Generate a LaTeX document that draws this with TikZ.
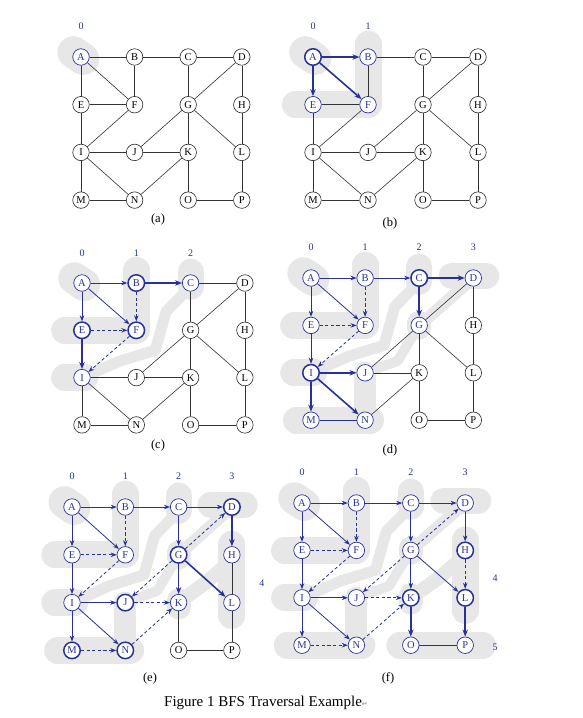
\documentclass[tikz,border=0pt]{standalone}
\usepackage{fontspec}
\setmainfont{Liberation Serif}
\newfontfamily\dvs{DejaVu Sans}
\usetikzlibrary{arrows.meta}
\definecolor{bl}{RGB}{40,50,150}
\definecolor{blobc}{RGB}{231,231,231}
\tikzset{
 nbase/.style={circle, minimum size=16.5pt, inner sep=0pt, fill=white, font=\fontsize{10.5}{12}\selectfont},
 nbk/.style={nbase, draw=black!85, line width=0.6pt, text=black},
 nvs/.style={draw=bl, line width=0.7pt, text=bl},
 ncu/.style={draw=bl, line width=1.5pt, text=bl},
 ebk/.style={draw=black!80, line width=0.6pt},
 ebl/.style={draw=bl, line width=0.8pt},
 etr/.style={draw=bl, line width=0.8pt, -{Stealth[length=6pt,width=4.5pt]}},
 etk/.style={draw=bl, line width=1.6pt, -{Stealth[length=7pt,width=5.5pt]}},
 eds/.style={draw=bl, line width=0.8pt, dash pattern=on 3.2pt off 2.4pt, -{Stealth[length=6pt,width=4.5pt]}},
 blob/.style={draw=blobc, line cap=round, line join=round},
 lvl/.style={text=bl, font=\fontsize{10}{12}\selectfont},
 sub/.style={font=\fontsize{12.5}{14}\selectfont},
 stA/.style={}, stB/.style={}, stC/.style={}, stD/.style={},
 stE/.style={}, stF/.style={}, stG/.style={}, stH/.style={},
 stI/.style={}, stJ/.style={}, stK/.style={}, stL/.style={},
 stM/.style={}, stN/.style={}, stO/.style={}, stP/.style={},
 kAB/.style={}, kBC/.style={}, kCD/.style={}, kAE/.style={}, kAF/.style={},
 kBF/.style={}, kEF/.style={}, kCG/.style={}, kGD/.style={}, kDH/.style={},
 kEI/.style={}, kFI/.style={}, kGJ/.style={}, kGK/.style={}, kGL/.style={},
 kHL/.style={}, kIJ/.style={}, kJK/.style={}, kIM/.style={}, kIN/.style={},
 kNK/.style={}, kKO/.style={}, kLP/.style={}, kMN/.style={}, kOP/.style={},
}
\newcommand\Grid[1]{%
 \node[nbk,stA] (#1A) at (0,0) {A};
 \node[nbk,stB] (#1B) at (1,0) {B};
 \node[nbk,stC] (#1C) at (2,0) {C};
 \node[nbk,stD] (#1D) at (3,0) {D};
 \node[nbk,stE] (#1E) at (0,1) {E};
 \node[nbk,stF] (#1F) at (1,1) {F};
 \node[nbk,stG] (#1G) at (2,1) {G};
 \node[nbk,stH] (#1H) at (3,1) {H};
 \node[nbk,stI] (#1I) at (0,2) {I};
 \node[nbk,stJ] (#1J) at (1,2) {J};
 \node[nbk,stK] (#1K) at (2,2) {K};
 \node[nbk,stL] (#1L) at (3,2) {L};
 \node[nbk,stM] (#1M) at (0,3) {M};
 \node[nbk,stN] (#1N) at (1,3) {N};
 \node[nbk,stO] (#1O) at (2,3) {O};
 \node[nbk,stP] (#1P) at (3,3) {P};
}
\newcommand\Edges[1]{%
 \draw[ebk,kAB] (#1A)--(#1B);
 \draw[ebk,kBC] (#1B)--(#1C);
 \draw[ebk,kCD] (#1C)--(#1D);
 \draw[ebk,kAE] (#1A)--(#1E);
 \draw[ebk,kAF] (#1A)--(#1F);
 \draw[ebk,kBF] (#1B)--(#1F);
 \draw[ebk,kEF] (#1E)--(#1F);
 \draw[ebk,kCG] (#1C)--(#1G);
 \draw[ebk,kGD] (#1G)--(#1D);
 \draw[ebk,kDH] (#1D)--(#1H);
 \draw[ebk,kEI] (#1E)--(#1I);
 \draw[ebk,kFI] (#1F)--(#1I);
 \draw[ebk,kGJ] (#1G)--(#1J);
 \draw[ebk,kGK] (#1G)--(#1K);
 \draw[ebk,kGL] (#1G)--(#1L);
 \draw[ebk,kHL] (#1H)--(#1L);
 \draw[ebk,kIJ] (#1I)--(#1J);
 \draw[ebk,kJK] (#1J)--(#1K);
 \draw[ebk,kIM] (#1I)--(#1M);
 \draw[ebk,kIN] (#1I)--(#1N);
 \draw[ebk,kNK] (#1N)--(#1K);
 \draw[ebk,kKO] (#1K)--(#1O);
 \draw[ebk,kLP] (#1L)--(#1P);
 \draw[ebk,kMN] (#1M)--(#1N);
 \draw[ebk,kOP] (#1O)--(#1P);
}
\newcommand\LZ{\draw[blob,line width=32pt] (-0.14,-0.1) -- (0.04,0.04);}
\newcommand\LO{\draw[blob,line width=27pt] (1,-0.27) -- (1,1) -- (-0.32,1);}
\newcommand\LT{%
 \draw[blob,line width=26pt] (2,-0.24) -- (2,0.08);
 \draw[blob,line width=11pt] (2,0.08) -- (1.55,0.6) -- (1.35,1.42) -- (0.7,1.65) -- (0.1,1.95);
 \draw[blob,line width=27pt] (-0.32,2) -- (0.05,2);}
\newcommand\LTh{%
 \draw[blob,line width=26pt] (2.6,-0.05) -- (3.24,-0.05);
 \draw[blob,line width=12pt] (3,0) -- (2,1);
 \draw[blob,line width=24pt] (2,0.95) -- (2,1.05);
 \draw[blob,line width=10pt] (2,1) -- (1.6,1.75) -- (1,2);
 \draw[blob,line width=22pt] (1,2) -- (1,3);
 \draw[blob,line width=27pt] (-0.27,3) -- (1.1,3);}
\newcommand\LF{%
 \draw[blob,line width=27pt] (3,0.78) -- (3,2.27);
 \draw[blob,line width=24pt] (2,1.95) -- (2,2.1);
 \draw[blob,line width=14pt] (2,2) -- (2.55,1.55) -- (3,1.1);}
\newcommand\LFv{\draw[blob,line width=27pt] (1.8,3) -- (3.32,3);}
\begin{document}
\begin{tikzpicture}
\useasboundingbox (0,0) rectangle (582pt,-718pt);
\fill[white] (0,0) rectangle (582pt,-718pt);
% (a)
\begin{scope}[shift={(81pt,-57pt)}, x=53.6pt, y=-47.7pt, stA/.style=nvs]
 \LZ
 \Grid{a}\Edges{a}
 \node[lvl] (a0) at (0,-0.64) {0};
\end{scope}
% (b)
\begin{scope}[shift={(313pt,-57pt)}, x=55pt, y=-47.7pt,
 stA/.style=ncu, stB/.style=nvs, stE/.style=nvs, stF/.style=nvs,
 kAB/.style=etk, kAE/.style=etk, kAF/.style=etk]
 \LZ\LO
 \Grid{b}\Edges{b}
 \node[lvl] (b0) at (0,-0.64) {0};
 \node[lvl] (b1) at (1,-0.64) {1};
\end{scope}
% (c)
\begin{scope}[shift={(82pt,-283pt)}, x=54.3pt, y=-47.3pt,
 stA/.style=nvs, stB/.style=ncu, stE/.style=ncu, stF/.style=ncu, stC/.style=nvs, stI/.style=nvs,
 kAB/.style=etr, kAE/.style=etr, kAF/.style=etr, kBC/.style=etk, kBF/.style=eds,
 kEF/.style=eds, kEI/.style=etk, kFI/.style=eds]
 \LZ\LO\LT
 \Grid{c}\Edges{c}
 \node[lvl] (c0) at (0,-0.64) {0};
 \node[lvl] (c1) at (1,-0.64) {1};
 \node[lvl] (c2) at (2,-0.64) {2};
\end{scope}
% (d)
\begin{scope}[shift={(311pt,-278pt)}, x=54.1pt, y=-47.4pt,
 stA/.style=nvs, stB/.style=nvs, stE/.style=nvs, stF/.style=nvs,
 stC/.style=ncu, stI/.style=ncu,
 stD/.style=nvs, stG/.style=nvs, stJ/.style=nvs, stM/.style=nvs, stN/.style=nvs,
 kAB/.style=etr, kAE/.style=etr, kAF/.style=etr, kBC/.style=etr, kEI/.style=etr,
 kBF/.style=eds, kEF/.style=eds, kFI/.style=eds,
 kCD/.style=etk, kCG/.style=etk, kIJ/.style=etk, kIM/.style=etk, kIN/.style=etk,
 kMN/.style=ebl]
 \LZ\LO\LT\LTh
 \Grid{d}\Edges{d}
 \node[lvl] (d0) at (0,-0.64) {0};
 \node[lvl] (d1) at (1,-0.64) {1};
 \node[lvl] (d2) at (2,-0.64) {2};
 \node[lvl] (d3) at (3,-0.64) {3};
\end{scope}
% (e)
\begin{scope}[shift={(72pt,-507pt)}, x=53.3pt, y=-47.8pt,
 stA/.style=nvs, stB/.style=nvs, stC/.style=nvs, stE/.style=nvs, stF/.style=nvs, stI/.style=nvs,
 stH/.style=nvs, stK/.style=nvs, stL/.style=nvs,
 stD/.style=ncu, stG/.style=ncu, stJ/.style=ncu, stM/.style=ncu, stN/.style=ncu,
 kAB/.style=etr, kAE/.style=etr, kAF/.style=etr, kBC/.style=etr, kEI/.style=etr,
 kCD/.style=etr, kCG/.style=etr, kIJ/.style=etr, kIM/.style=etr, kIN/.style=etr,
 kBF/.style=eds, kEF/.style=eds, kFI/.style=eds, kGD/.style=eds, kGJ/.style=eds,
 kJK/.style=eds, kMN/.style=eds, kNK/.style=eds,
 kDH/.style=etk, kGK/.style=etk, kGL/.style=etk]
 \LZ\LO\LT\LTh\LF
 \Grid{e}\Edges{e}
 \node[lvl] (e0) at (0,-0.64) {0};
 \node[lvl] (e1) at (1,-0.64) {1};
 \node[lvl] (e2) at (2,-0.64) {2};
 \node[lvl] (e3) at (3,-0.64) {3};
 \node[lvl] (e4) at (3.56,1.59) {4};
\end{scope}
% (f)
\begin{scope}[shift={(302pt,-503pt)}, x=54.4pt, y=-47.4pt,
 stA/.style=nvs, stB/.style=nvs, stC/.style=nvs, stD/.style=nvs,
 stE/.style=nvs, stF/.style=nvs, stG/.style=nvs, stH/.style=ncu,
 stI/.style=nvs, stJ/.style=nvs, stK/.style=ncu, stL/.style=ncu,
 stM/.style=nvs, stN/.style=nvs, stO/.style=nvs, stP/.style=nvs,
 kAB/.style=etr, kAE/.style=etr, kAF/.style=etr, kBC/.style=etr, kEI/.style=etr,
 kCD/.style=etr, kCG/.style=etr, kIJ/.style=etr, kIM/.style=etr, kIN/.style=etr,
 kDH/.style=etr, kGK/.style=etr, kGL/.style=etr,
 kBF/.style=eds, kEF/.style=eds, kFI/.style=eds, kGD/.style=eds, kGJ/.style=eds,
 kJK/.style=eds, kMN/.style=eds, kNK/.style=eds, kHL/.style=eds,
 kKO/.style=etk, kLP/.style=etk, kOP/.style=ebl]
 \LZ\LO\LT\LTh\LF\LFv
 \Grid{f}\Edges{f}
 \node[lvl] (f0) at (0,-0.64) {0};
 \node[lvl] (f1) at (1,-0.64) {1};
 \node[lvl] (f2) at (2,-0.64) {2};
 \node[lvl] (f3) at (3,-0.64) {3};
 \node[lvl] (f4) at (3.55,1.58) {4};
 \node[lvl] (f5) at (3.55,3.04) {5};
\end{scope}
\node[sub] (capa) at (158pt,-219pt) {(a)};
\node[sub] (capb) at (390pt,-223pt) {(b)};
\node[sub] (capc) at (158pt,-445pt) {(c)};
\node[sub] (capd) at (390pt,-450pt) {(d)};
\node[sub] (cape) at (150pt,-678pt) {(e)};
\node[sub] (capf) at (388pt,-678pt) {(f)};
\node[font=\fontsize{15}{17}\selectfont] (cap) at (266pt,-703pt) {Figure 1 BFS Traversal Example{\dvs\fontsize{7}{8}\selectfont\color{gray}↵}};
\end{tikzpicture}
\end{document}
